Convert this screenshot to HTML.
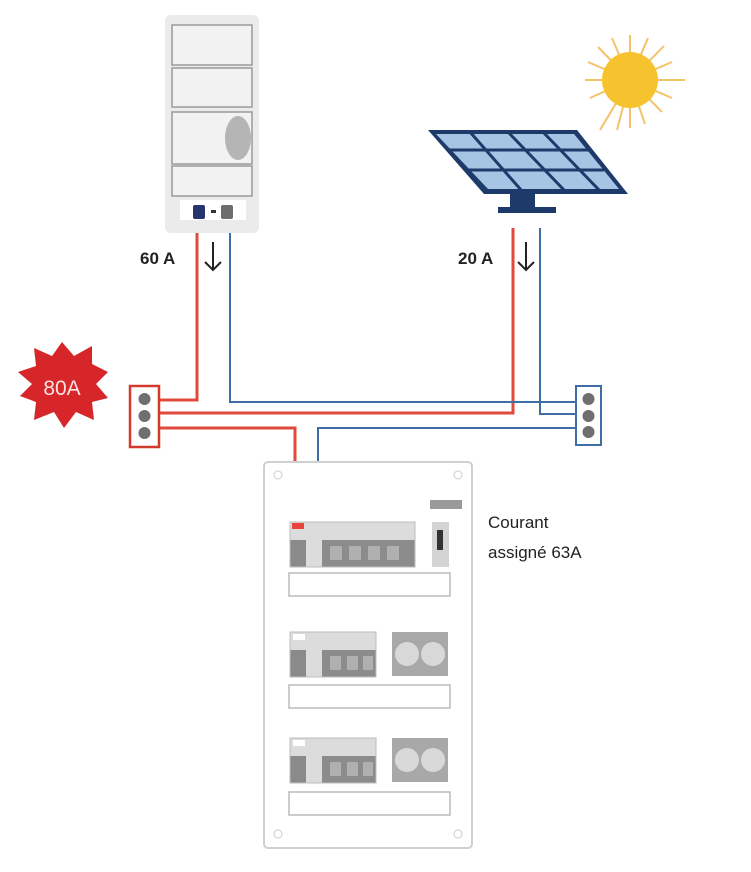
<!DOCTYPE html>
<html><head><meta charset="utf-8"><style>
html,body{margin:0;padding:0;background:#fff;width:751px;height:872px;overflow:hidden}
svg{display:block}
text{font-family:"Liberation Sans",sans-serif}
</style></head><body>
<svg width="751" height="872" viewBox="0 0 751 872" xmlns="http://www.w3.org/2000/svg">
<defs>
<g id="mods">
  <rect x="0" y="0" width="125" height="45" fill="#dcdcdc"/>
  <rect x="0" y="18" width="16" height="27" fill="#8a8a8a"/>
  <rect x="32" y="18" width="93" height="27" fill="#8c8c8c"/>
  <rect x="40" y="24" width="12" height="14" fill="#b0b0b0"/>
  <rect x="59" y="24" width="12" height="14" fill="#b0b0b0"/>
  <rect x="78" y="24" width="12" height="14" fill="#b0b0b0"/>
  <rect x="97" y="24" width="12" height="14" fill="#b0b0b0"/>
  <rect x="0" y="0" width="125" height="45" fill="none" stroke="#bdbdbd"/>
</g>
<g id="mods2">
  <rect x="0" y="0" width="86" height="45" fill="#dcdcdc"/>
  <rect x="0" y="18" width="16" height="27" fill="#8a8a8a"/>
  <rect x="32" y="18" width="54" height="27" fill="#8c8c8c"/>
  <rect x="40" y="24" width="11" height="14" fill="#b0b0b0"/>
  <rect x="57" y="24" width="11" height="14" fill="#b0b0b0"/>
  <rect x="73" y="24" width="10" height="14" fill="#b0b0b0"/>
  <rect x="0" y="0" width="86" height="45" fill="none" stroke="#bdbdbd"/>
</g>
</defs>

<!-- Battery -->
<rect x="165" y="15" width="94" height="218" rx="6" fill="#ebebeb"/>
<rect x="172" y="25" width="80" height="40" fill="#f2f2f2" stroke="#9a9a9a" stroke-width="1.5"/>
<rect x="172" y="68" width="80" height="39" fill="#f2f2f2" stroke="#9a9a9a" stroke-width="1.5"/>
<rect x="172" y="112" width="80" height="52" fill="#f2f2f2" stroke="#9a9a9a" stroke-width="1.5"/>
<ellipse cx="238" cy="138" rx="13" ry="22" fill="#b5b5b5"/>
<rect x="172" y="166" width="80" height="30" fill="#f2f2f2" stroke="#9a9a9a" stroke-width="1.5"/>
<rect x="180" y="200" width="66" height="20" fill="#fff"/>
<rect x="193" y="205" width="12" height="14" rx="2" fill="#27346e"/>
<rect x="221" y="205" width="12" height="14" rx="2" fill="#6d6d6d"/>
<rect x="211" y="210" width="5" height="3" fill="#333"/>

<!-- Sun -->
<g stroke="#f2c36b" stroke-width="2">
<line x1="630" y1="80" x2="630" y2="35"/><line x1="630" y1="80" x2="630" y2="128"/>
<line x1="630" y1="80" x2="685" y2="80"/><line x1="630" y1="80" x2="585" y2="80"/>
<line x1="630" y1="80" x2="664" y2="46"/><line x1="630" y1="80" x2="598" y2="47"/>
<line x1="630" y1="80" x2="662" y2="112"/><line x1="630" y1="80" x2="600" y2="130"/>
<line x1="630" y1="80" x2="648" y2="38"/><line x1="630" y1="80" x2="612" y2="38"/>
<line x1="630" y1="80" x2="672" y2="62"/><line x1="630" y1="80" x2="590" y2="98"/>
<line x1="630" y1="80" x2="645" y2="124"/><line x1="630" y1="80" x2="672" y2="98"/>
<line x1="630" y1="80" x2="588" y2="62"/><line x1="630" y1="80" x2="617" y2="130"/>
</g>
<circle cx="630" cy="80" r="28" fill="#f6c22e"/>

<!-- Solar panel -->
<polygon points="428,130 577,130 628,194 484,194" fill="#1e3a6b"/>
<polygon points="436,134 574,134 619,189 488,189" fill="#a6c4e4"/>
<g stroke="#1e3a6b" stroke-width="3">
<line x1="449" y1="150" x2="589" y2="150"/>
<line x1="465" y1="170" x2="604" y2="170"/>
<line x1="470" y1="132" x2="522" y2="191"/>
<line x1="508" y1="132" x2="565" y2="191"/>
<line x1="543" y1="132" x2="600" y2="191"/>
</g>
<rect x="510" y="194" width="25" height="13" fill="#1e3a6b"/>
<rect x="498" y="207" width="58" height="6" fill="#1e3a6b"/>

<!-- Labels -->
<text x="140" y="264" font-size="17" font-weight="bold" fill="#222">60 A</text>
<text x="458" y="264" font-size="17" font-weight="bold" fill="#222">20 A</text>
<g stroke="#222" stroke-width="2" fill="none">
<path d="M213 242 V270 M205 262 L213 270 L221 262"/>
<path d="M526 242 V270 M518 262 L526 270 L534 262"/>
<path d="M305 470 V498 M297 490 L305 498 L313 490"/>
</g>

<!-- Wires -->
<g fill="none" stroke="#e04a3c" stroke-width="3">
<path d="M197 233 V400 H160"/>
<path d="M513 228 V413 H160"/>
<path d="M160 428 H295 V525"/>
</g>
<g fill="none" stroke="#3e6ea6" stroke-width="2">
<path d="M230 233 V402 H576"/>
<path d="M540 228 V414 H576"/>
<path d="M576 428 H318 V525"/>
</g>

<!-- terminals -->
<rect x="130" y="386" width="29" height="61" fill="#fff" stroke="#d23a2c" stroke-width="2.5"/>
<circle cx="144.5" cy="399" r="6" fill="#6f6f6f"/><circle cx="144.5" cy="416" r="6" fill="#6f6f6f"/><circle cx="144.5" cy="433" r="6" fill="#6f6f6f"/>
<rect x="576" y="386" width="25" height="59" fill="#fff" stroke="#3e6ea6" stroke-width="2"/>
<circle cx="588.5" cy="399" r="6" fill="#6f6f6f"/><circle cx="588.5" cy="416" r="6" fill="#6f6f6f"/><circle cx="588.5" cy="432" r="6" fill="#6f6f6f"/>

<!-- 80A starburst -->
<polygon points="62,342 74,356 92,346 92,364 108,372 96,384 108,398 92,402 94,420 76,412 64,428 54,412 34,420 36,402 20,396 32,384 18,372 36,366 34,348 52,356" fill="#d6262a"/>
<text x="62" y="395" font-size="21" fill="#fde3df" text-anchor="middle">80A</text>

<!-- Panel board -->
<rect x="264" y="462" width="208" height="386" rx="4" fill="#fff" stroke="#cfcfcf" stroke-width="2"/>
<circle cx="278" cy="475" r="4" fill="none" stroke="#ccc"/>
<circle cx="458" cy="475" r="4" fill="none" stroke="#ccc"/>
<circle cx="278" cy="834" r="4" fill="none" stroke="#ccc"/>
<circle cx="458" cy="834" r="4" fill="none" stroke="#ccc"/>
<rect x="430" y="500" width="32" height="9" fill="#9a9a9a"/>

<use href="#mods" x="290" y="522"/>
<rect x="292" y="523" width="12" height="6" fill="#e8463a"/>
<rect x="432" y="522" width="17" height="45" fill="#d4d4d4"/>
<rect x="437" y="530" width="6" height="20" fill="#333"/>
<rect x="289" y="573" width="161" height="23" fill="#fff" stroke="#bbb" stroke-width="1.5"/>

<use href="#mods2" x="290" y="632"/>
<rect x="293" y="634" width="12" height="6" fill="#fff"/>
<rect x="392" y="632" width="56" height="44" fill="#a8a8a8"/>
<circle cx="407" cy="654" r="12" fill="#d8d8d8"/><circle cx="433" cy="654" r="12" fill="#d8d8d8"/>
<rect x="289" y="685" width="161" height="23" fill="#fff" stroke="#bbb" stroke-width="1.5"/>

<use href="#mods2" x="290" y="738"/>
<rect x="293" y="740" width="12" height="6" fill="#fff"/>
<rect x="392" y="738" width="56" height="44" fill="#a8a8a8"/>
<circle cx="407" cy="760" r="12" fill="#d8d8d8"/><circle cx="433" cy="760" r="12" fill="#d8d8d8"/>
<rect x="289" y="792" width="161" height="23" fill="#fff" stroke="#bbb" stroke-width="1.5"/>

<text x="488" y="528" font-size="17" fill="#222">Courant</text>
<text x="488" y="558" font-size="17" fill="#222">assigné 63A</text>
</svg>
</body></html>
